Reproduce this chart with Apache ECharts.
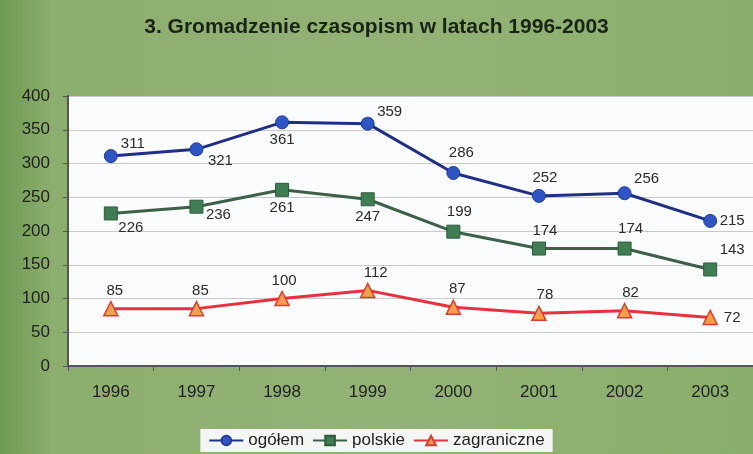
<!DOCTYPE html>
<html>
<head>
<meta charset="utf-8">
<script src="https://cdn.jsdelivr.net/npm/echarts@6/dist/echarts.min.js"></script>
<style>
  html, body { margin: 0; padding: 0; }
  #main { width: 753px; height: 454px; background: linear-gradient(90deg, #6f9a52 0%, #8cae6e 7%, #93b376 50%, #8aae6c 100%); }
</style>
</head>
<body>
<div id="main"></div>
<script>
var years = ['1996', '1997', '1998', '1999', '2000', '2001', '2002', '2003'];
var ogolem = [311, 321, 361, 359, 286, 252, 256, 215];
var polskie = [226, 236, 261, 247, 199, 174, 174, 143];
var zagraniczne = [85, 85, 100, 112, 87, 78, 82, 72];

// label placement per point (only styling)
var ogPos = [[22, -12], [24, 12], [0, 18], [22, -12], [8, -20], [6, -18], [22, -14], [22, 0]];
var plPos = [[20, 14], [22, 8], [0, 18], [0, 18], [6, -20], [6, -18], [6, -20], [22, -20]];
var zaPos = [[4, -18], [4, -18], [2, -18], [8, -18], [4, -18], [6, -18], [6, -18], [22, 0]];

function withLabels(vals, offs) {
  return vals.map(function (v, i) {
    return { value: v, label: { offset: offs[i] } };
  });
}

var chart = echarts.init(document.getElementById('main'));
var option = {
  title: {
    text: '3. Gromadzenie czasopism w latach 1996-2003',
    left: 'center',
    top: 12,
    textStyle: { fontFamily: 'Liberation Sans', fontSize: 21, fontWeight: 'bold', color: '#1a2416' }
  },
  legend: {
    bottom: 2,
    left: 'center',
    backgroundColor: '#f4f6f4',
    padding: [3, 8],
    itemGap: 8,
    itemWidth: 34,
    itemHeight: 12,
    textStyle: { fontFamily: 'Liberation Sans', fontSize: 17, color: '#222' },
    data: ['ogółem', 'polskie', 'zagraniczne']
  },
  grid: {
    left: 68, right: 0, top: 96, bottom: 88,
    backgroundColor: '#fbfcfd', show: true, borderWidth: 0
  },
  xAxis: {
    type: 'category',
    data: years,
    axisLine: { lineStyle: { color: '#555', width: 2 } },
    axisTick: { show: true, lineStyle: { color: '#555' } },
    axisLabel: { fontFamily: 'Liberation Sans', fontSize: 17, color: '#222', margin: 18 }
  },
  yAxis: {
    type: 'value',
    min: 0, max: 400, interval: 50,
    axisLine: { show: true, lineStyle: { color: '#555', width: 2 } },
    axisTick: { show: true, length: 5, lineStyle: { color: '#555' } },
    splitLine: { lineStyle: { color: '#c8c8c8', width: 1 } },
    axisLabel: { fontFamily: 'Liberation Sans', fontSize: 17, color: '#222', margin: 18 }
  },
  series: [
    {
      name: 'ogółem', type: 'line',
      data: withLabels(ogolem, ogPos),
      symbol: 'circle', symbolSize: 13,
      lineStyle: { color: '#1f2f86', width: 3 },
      itemStyle: { color: '#2f55c4', borderColor: '#1f3a9a', borderWidth: 1 },
      label: { show: true, position: 'inside', fontFamily: 'Liberation Sans', fontSize: 15, color: '#2a2a2a' }
    },
    {
      name: 'polskie', type: 'line',
      data: withLabels(polskie, plPos),
      symbol: 'rect', symbolSize: 13,
      lineStyle: { color: '#3d6048', width: 3 },
      itemStyle: { color: '#3f7e52', borderColor: '#2d5a3a', borderWidth: 1 },
      label: { show: true, position: 'inside', fontFamily: 'Liberation Sans', fontSize: 15, color: '#2a2a2a' }
    },
    {
      name: 'zagraniczne', type: 'line',
      data: withLabels(zagraniczne, zaPos),
      symbol: 'triangle', symbolSize: 14,
      lineStyle: { color: '#e8303e', width: 3 },
      itemStyle: { color: '#f4a04a', borderColor: '#e03a30', borderWidth: 1.5 },
      label: { show: true, position: 'inside', fontFamily: 'Liberation Sans', fontSize: 15, color: '#2a2a2a' }
    }
  ]
};
chart.setOption(option);
</script>
</body>
</html>
